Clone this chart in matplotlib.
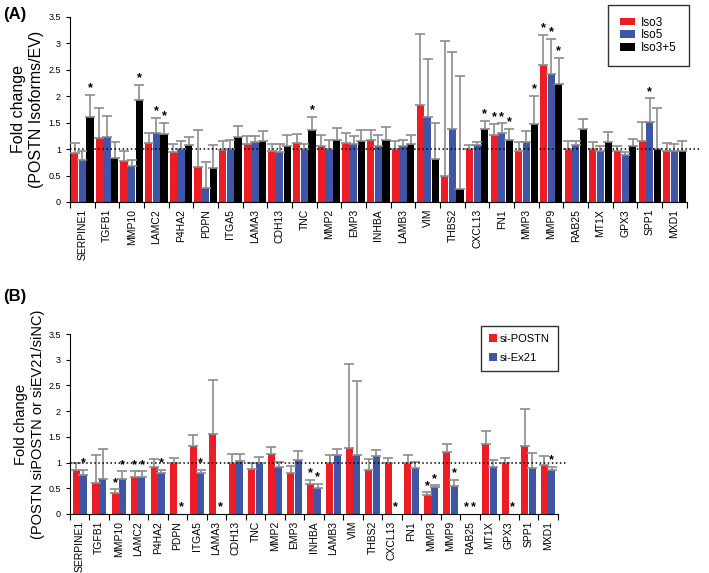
import matplotlib.pyplot as plt
import numpy as np

plt.rcParams['font.family'] = ['Liberation Sans', 'DejaVu Sans']

#======= Donnees =======

genes = ['SERPINE1', 'TGFB1', 'MMP10', 'LAMC2', 'P4HA2', 'PDPN', 'ITGA5', 'LAMA3',
         'CDH13', 'TNC', 'MMP2', 'EMP3', 'INHBA', 'LAMB3', 'VIM', 'THBS2', 'CXCL13',
         'FN1', 'MMP3', 'MMP9', 'RAB25', 'MT1X', 'GPX3', 'SPP1', 'MXD1']

    #=== Panel A ===
iso3 = [0.92, 1.21, 0.78, 1.12, 0.94, 0.66, 0.98, 1.09, 0.96, 1.12, 1.05, 1.11, 1.17,
        1.00, 1.84, 0.49, 1.00, 1.27, 0.97, 2.59, 1.00, 1.00, 0.97, 1.15, 0.96]
iso3_err = [1.11, 1.77, 0.97, 1.31, 1.09, 1.36, 1.15, 1.25, 1.10, 1.28, 1.26, 1.30, 1.36,
            1.16, 3.17, 3.05, 1.08, 1.48, 1.14, 3.16, 1.15, 1.13, 1.06, 1.51, 1.12]
iso5 = [0.79, 1.23, 0.68, 1.30, 1.00, 0.27, 1.00, 1.13, 0.95, 1.00, 1.00, 1.09, 1.05,
        1.06, 1.61, 1.38, 1.08, 1.31, 1.14, 2.42, 1.08, 0.97, 0.89, 1.51, 0.96]
iso5_err = [0.96, 1.62, 0.80, 1.59, 1.16, 0.75, 1.18, 1.25, 1.09, 1.10, 1.18, 1.24, 1.26,
            1.17, 2.70, 2.83, 1.13, 1.49, 1.34, 3.09, 1.16, 1.06, 0.94, 1.96, 1.09]
iso35 = [1.60, 0.84, 1.93, 1.28, 1.07, 0.65, 1.23, 1.15, 1.06, 1.37, 1.18, 1.15, 1.18,
         1.09, 0.82, 0.24, 1.38, 1.18, 1.47, 2.23, 1.38, 1.14, 1.05, 1.00, 0.96]
iso35_err = [2.02, 1.14, 2.21, 1.50, 1.22, 1.08, 1.43, 1.34, 1.27, 1.61, 1.40, 1.36, 1.42,
             1.26, 1.50, 2.39, 1.53, 1.39, 2.01, 2.72, 1.57, 1.33, 1.20, 1.77, 1.16]
sig_iso3 = ['FN1', 'MMP9']
sig_iso5 = ['LAMC2', 'FN1', 'MMP9', 'SPP1']
sig_iso35 = ['SERPINE1', 'MMP10', 'LAMC2', 'TNC', 'CXCL13', 'FN1', 'MMP3', 'MMP9']

    #=== Panel B ===
si_postn = [0.86, 0.60, 0.40, 0.71, 0.92, 1.00, 1.33, 1.56, 0.99, 0.88, 1.17, 0.79, 0.58,
            1.00, 1.29, 0.86, 0.99, 1.00, 0.36, 1.20, 0.00, 1.37, 1.00, 1.33, 0.96]
si_postn_err = [1.00, 1.14, 0.48, 0.83, 1.06, 1.08, 1.54, 2.61, 1.17, 1.00, 1.31, 0.94, 0.66,
                1.14, 2.91, 1.06, 1.09, 1.14, 0.42, 1.36, 0.00, 1.61, 1.08, 2.04, 1.12]
si_ex21 = [0.76, 0.68, 0.68, 0.71, 0.79, 0.00, 0.80, 0.00, 1.04, 1.00, 0.92, 1.05, 0.50,
           1.14, 1.14, 1.12, 0.00, 0.90, 0.52, 0.55, 0.00, 0.91, 0.00, 0.90, 0.85]
si_ex21_err = [0.86, 1.26, 0.83, 0.83, 0.86, 0.00, 0.86, 0.00, 1.17, 1.10, 1.01, 1.23, 0.58,
               1.26, 2.59, 1.25, 0.00, 1.02, 0.56, 0.66, 0.00, 1.05, 0.00, 1.18, 0.92]
sig_postn = ['MMP10', 'LAMC2', 'INHBA', 'MMP3', 'RAB25']
sig_ex21 = ['SERPINE1', 'MMP10', 'LAMC2', 'P4HA2', 'PDPN', 'ITGA5', 'LAMA3', 'INHBA',
            'CXCL13', 'MMP3', 'MMP9', 'RAB25', 'GPX3', 'MXD1']

rouge = '#ee1c25'
bleu = '#3f55a5'
gris = '#8c8c8c'

#======= Fonctions =======

def barres(ax, x, vals, errs, sig, couleur, w, label):
    vals = np.array(vals)
    errs = np.array(errs)
    ax.bar(x, vals, w, color=couleur, label=label, zorder=2)
    haut = np.maximum(errs - vals, 0)
    m = haut > 0
    ax.errorbar(x[m], vals[m], yerr=[np.zeros(m.sum()), haut[m]], fmt='none',
                ecolor=gris, elinewidth=1.2, capsize=3.5, capthick=1.2, zorder=3)
    for i, g in enumerate(genes):
        if g in sig:
            ax.text(x[i], max(errs[i], vals[i]) + 0.01, '*', ha='center', va='bottom',
                    fontsize=9, fontweight='bold', zorder=4)


def habillage(ax, ylabel, taille, xlab):
    n = len(genes)
    ax.set_xlim(-0.5, n - 0.5)
    ax.set_ylim(0, 3.5)
    ax.set_yticks(np.arange(0, 3.51, 0.5))
    ax.set_yticklabels(['0', '0.5', '1', '1.5', '2', '2.5', '3', '3.5'], fontsize=6.5)
    ax.set_xticks(np.arange(-0.5, n, 1))
    ax.set_xticklabels([])
    ax.set_xticks(np.arange(n), minor=True)
    ax.set_xticklabels(genes, minor=True, rotation=90, fontsize=7.5)
    ax.tick_params(axis='x', which='minor', length=0, pad=5)
    ax.tick_params(axis='x', which='major', length=4, direction='out')
    ax.tick_params(axis='y', length=3)
    for s in ['top', 'right']:
        ax.spines[s].set_visible(False)
    ax.set_ylabel(ylabel, fontsize=taille, linespacing=1.25)
    ax.yaxis.set_label_coords(xlab, 0.5)
    ax.plot([-0.5, n], [1, 1], color='black', linestyle=':', lw=1.1,
            clip_on=False, zorder=5)


#======= Figure =======

fig = plt.figure(figsize=(7.09, 5.73), dpi=100)
x = np.arange(len(genes))

axA = fig.add_axes([0.0987, 0.6475, 0.870, 0.3229])
barres(axA, x - 0.31, iso3, iso3_err, sig_iso3, rouge, 0.29, 'Iso3')
barres(axA, x, iso5, iso5_err, sig_iso5, bleu, 0.29, 'Iso5')
barres(axA, x + 0.31, iso35, iso35_err, sig_iso35, 'black', 0.29, 'Iso3+5')
habillage(axA, 'Fold change\n(POSTN Isoforms/EV)', 11.5, -0.042)
legA = axA.legend(loc='upper right', bbox_to_anchor=(1.003, 1.065), fontsize=8.5,
                  frameon=True, fancybox=False, edgecolor='black', handlelength=1.3,
                  handleheight=0.6, handletextpad=0.5, labelspacing=0.05,
                  borderpad=1.0, borderaxespad=0)
legA.get_frame().set_linewidth(1)

axB = fig.add_axes([0.0987, 0.103, 0.688, 0.314])
barres(axB, x - 0.19, si_postn, si_postn_err, sig_postn, rouge, 0.36, 'si-POSTN')
barres(axB, x + 0.19, si_ex21, si_ex21_err, sig_ex21, bleu, 0.36, 'si-Ex21')
habillage(axB, 'Fold change\n(POSTN siPOSTN or siEV21/siNC)', 10.5, -0.052)
legB = axB.legend(loc='upper right', bbox_to_anchor=(1.0, 1.044), fontsize=8,
                  frameon=True, fancybox=False, edgecolor='black', handlelength=0.7,
                  handleheight=0.7, handletextpad=0.3, labelspacing=0.8,
                  borderpad=0.7, borderaxespad=0)
legB.get_frame().set_linewidth(1)

fig.text(0.005, 0.975, '(A)', fontsize=12, fontweight='bold', va='center')
fig.text(0.005, 0.482, '(B)', fontsize=12, fontweight='bold', va='center')

plt.savefig('out.png', dpi=100)
